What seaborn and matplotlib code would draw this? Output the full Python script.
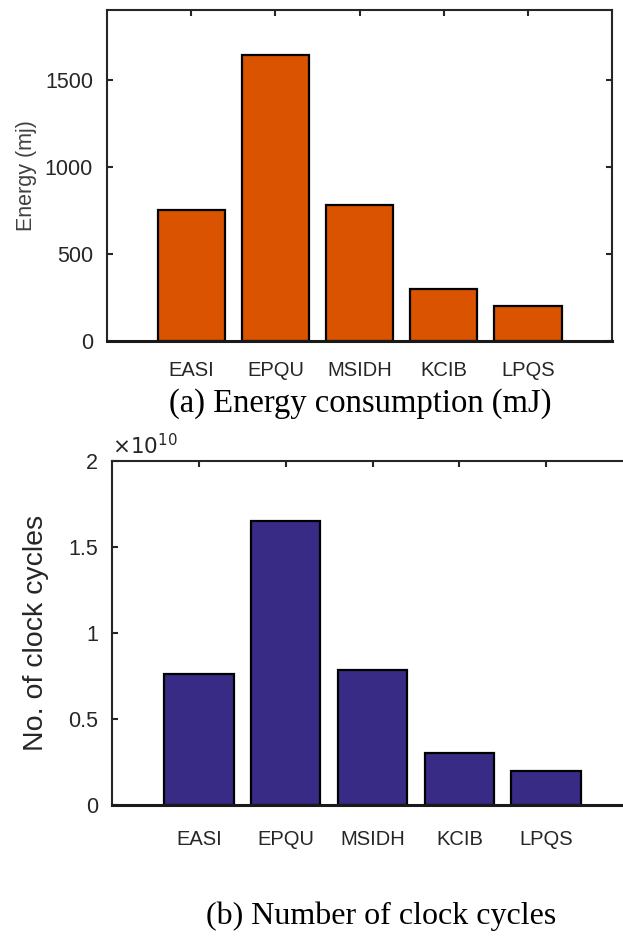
import matplotlib
matplotlib.use("Agg")
import matplotlib.pyplot as plt
import seaborn as sns
from matplotlib.ticker import FuncFormatter

categories = ["EASI", "EPQU", "MSIDH", "KCIB", "LPQS"]
energy_mj = [755, 1640, 780, 300, 200]
clock_cycles = [0.76e10, 1.65e10, 0.785e10, 0.30e10, 0.20e10]
energy_ticks = [0, 500, 1000, 1500]
cycle_ticks = [0, 0.5e10, 1.0e10, 1.5e10, 2.0e10]

sns.set_theme(style="white")
plt.rcParams["font.family"] = ["Liberation Sans", "DejaVu Sans"]

fig = plt.figure(figsize=(6.23, 9.36), dpi=100)
W, H = 623.0, 936.0

def px_axes(l, t, r, b):
    return fig.add_axes([l / W, 1 - b / H, (r - l) / W, (b - t) / H])

ax1 = px_axes(107, 10, 612, 341.3)
ax2 = px_axes(112, 461, 633, 805)

spine_c = "#262626"

def style(ax):
    for s in ax.spines.values():
        s.set_color(spine_c)
        s.set_linewidth(1.5)
    ax.spines["bottom"].set_linewidth(2.2)
    ax.spines["bottom"].set_color("#1a1a1a")
    ax.tick_params(axis="both", direction="in", length=4, width=1.5,
                   color=spine_c, labelcolor=spine_c, labelsize=15.5,
                   top=True, right=True, left=True, bottom=False,
                   labelbottom=True)
    ax.tick_params(axis="x", labelsize=14.5, pad=14)
    ax.tick_params(axis="y", pad=10)
    ax.set_xlabel("")

sns.barplot(x=categories, y=energy_mj, color="#D95300", saturation=1,
            width=0.8, edgecolor="black", linewidth=1.6, ax=ax1)
ax1.set_xlim(-1, 5)
ax1.set_ylim(0, 1900)
ax1.set_yticks(energy_ticks)
ax1.set_ylabel("Energy (mj)", fontsize=15.5, color="#404040", labelpad=6)
style(ax1)

sns.barplot(x=categories, y=clock_cycles, color="#372B86", saturation=1,
            width=0.8, edgecolor="black", linewidth=1.6, ax=ax2)
ax2.set_xlim(-1, 5)
ax2.set_ylim(0, 2.0e10)
ax2.set_yticks(cycle_ticks)
ax2.yaxis.set_major_formatter(FuncFormatter(lambda v, p: f"{v/1e10:g}"))
ax2.set_ylabel("No. of clock cycles", fontsize=20.5, color="#262626", labelpad=14)
style(ax2)
ax2.tick_params(axis="x", pad=18)
ax2.text(0.0, 1.005, r"$\times10^{10}$", transform=ax2.transAxes,
         fontsize=15.5, color=spine_c, ha="left", va="bottom",
         fontfamily="Liberation Sans")

fig.text(360 / W, 1 - 404 / H, "(a) Energy consumption (mJ)",
         fontfamily="Liberation Serif", fontsize=23.5, color="black",
         ha="center", va="center")
fig.text(381 / W, 1 - 916 / H, "(b) Number of clock cycles",
         fontfamily="Liberation Serif", fontsize=23, color="black",
         ha="center", va="center")

fig.savefig("out.png", dpi=100)
